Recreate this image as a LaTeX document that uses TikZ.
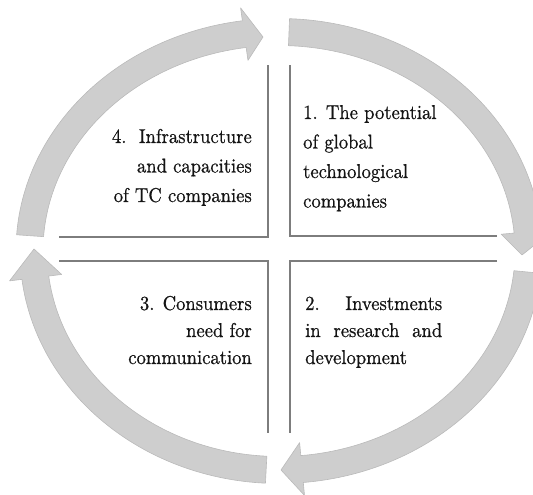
\documentclass[tikz,border=0pt]{standalone}
\usepackage{fontspec}
\newfontfamily\fieldfont[FakeBold=0.7, FakeStretch=0.93]{lmroman10-regular.otf}
\definecolor{bandfill}{RGB}{206,206,206}
\definecolor{bandedge}{RGB}{186,186,186}
\definecolor{divcol}{RGB}{125,125,125}
\definecolor{inkcol}{RGB}{20,20,20}
\begin{document}
\begin{tikzpicture}[x=1pt,y=1pt,
  band/.style={fill=bandfill, draw=bandedge, line width=0.6pt, line join=round},
  divider/.style={draw=divcol, line width=1.3pt},
  quadtext/.style={inner sep=0pt, text=inkcol, font=\fieldfont\fontsize{20}{29.5}\selectfont},
  lowtext/.style={quadtext, font=\fieldfont\fontsize{20}{27}\selectfont}]
\useasboundingbox (0,0) rectangle (533,495);
\clip (0,0) rectangle (533,495);

% four curved arrows forming the cycle (ellipse centred on the cross)
\begin{scope}[shift={(279,244)}]
  % upper left: from the left side up to the top, pointing right
  \path[band] (176:263 and 232.5)
    arc[start angle=176, end angle=98, x radius=263, y radius=232.5]
    -- (98:276 and 245.5)
    -- (-16,214) coordinate (tipA)
    -- (98:223 and 192.5)
    -- (98:236 and 205.5)
    arc[start angle=98, end angle=176, x radius=236, y radius=205.5] -- cycle;
  % upper right: from the top down to the right side, pointing down
  \path[band] (87.7:263 and 232.5)
    arc[start angle=87.7, end angle=5, x radius=263, y radius=232.5]
    -- (5:276 and 245.5)
    -- (243,-4) coordinate (tipB)
    -- (5:223 and 192.5)
    -- (5:236 and 205.5)
    arc[start angle=5, end angle=87.7, x radius=236, y radius=205.5] -- cycle;
  % lower right: from the right side down to the bottom, pointing left
  \path[band] (-5.5:263 and 232.5)
    arc[start angle=-5.5, end angle=-84.7, x radius=263, y radius=232.5]
    -- (-84.7:276 and 245.5)
    -- (2,-219) coordinate (tipC)
    -- (-84.7:223 and 192.5)
    -- (-84.7:236 and 205.5)
    arc[start angle=-84.7, end angle=-5.5, x radius=236, y radius=205.5] -- cycle;
  % lower left: from the bottom up to the left side, pointing up
  \path[band] (267:259 and 232.5)
    arc[start angle=267, end angle=187, x radius=259, y radius=232.5]
    -- (187:271.5 and 245.5)
    -- (-245,2) coordinate (tipD)
    -- (187:219 and 192.5)
    -- (187:232 and 205.5)
    arc[start angle=187, end angle=267, x radius=232, y radius=205.5] -- cycle;
\end{scope}

% the cross that splits the four fields
\coordinate (ulA) at (59,258);   \coordinate (ulB) at (268,258);  \coordinate (ulC) at (268,430);
\coordinate (urA) at (497,259);  \coordinate (urB) at (290,259);  \coordinate (urC) at (290,430);
\coordinate (llA) at (59,234);   \coordinate (llB) at (268,234);  \coordinate (llC) at (268,62);
\coordinate (lrA) at (497,234);  \coordinate (lrB) at (290,234);  \coordinate (lrC) at (290,62);
\draw[divider] (ulA) -- (ulB) -- (ulC);
\draw[divider] (urA) -- (urB) -- (urC);
\draw[divider] (llA) -- (llB) -- (llC);
\draw[divider] (lrA) -- (lrB) -- (lrC);

% field texts
\node[quadtext, anchor=base west] (q1) at (303,376)
  {\begin{tabular}[t]{@{}l@{}}1. The potential\\ of global\\ technological\\ companies\end{tabular}};
\node[quadtext, anchor=base east] (q4) at (252,352)
  {\begin{tabular}[t]{@{}r@{}}4.\ \ Infrastructure\\ and capacities\\ of TC companies\end{tabular}};
\node[lowtext, anchor=base west] (q2) at (305,185)
  {\begin{tabular}[t]{@{}l@{}}\makebox[137pt][l]{2.\hfill Investments}\\ \makebox[137pt][s]{in research and}\\ development\end{tabular}};
\node[lowtext, anchor=base east] (q3) at (252,185)
  {\begin{tabular}[t]{@{}r@{}}3. Consumers\\ need for\\ communication\end{tabular}};
\end{tikzpicture}
\end{document}
